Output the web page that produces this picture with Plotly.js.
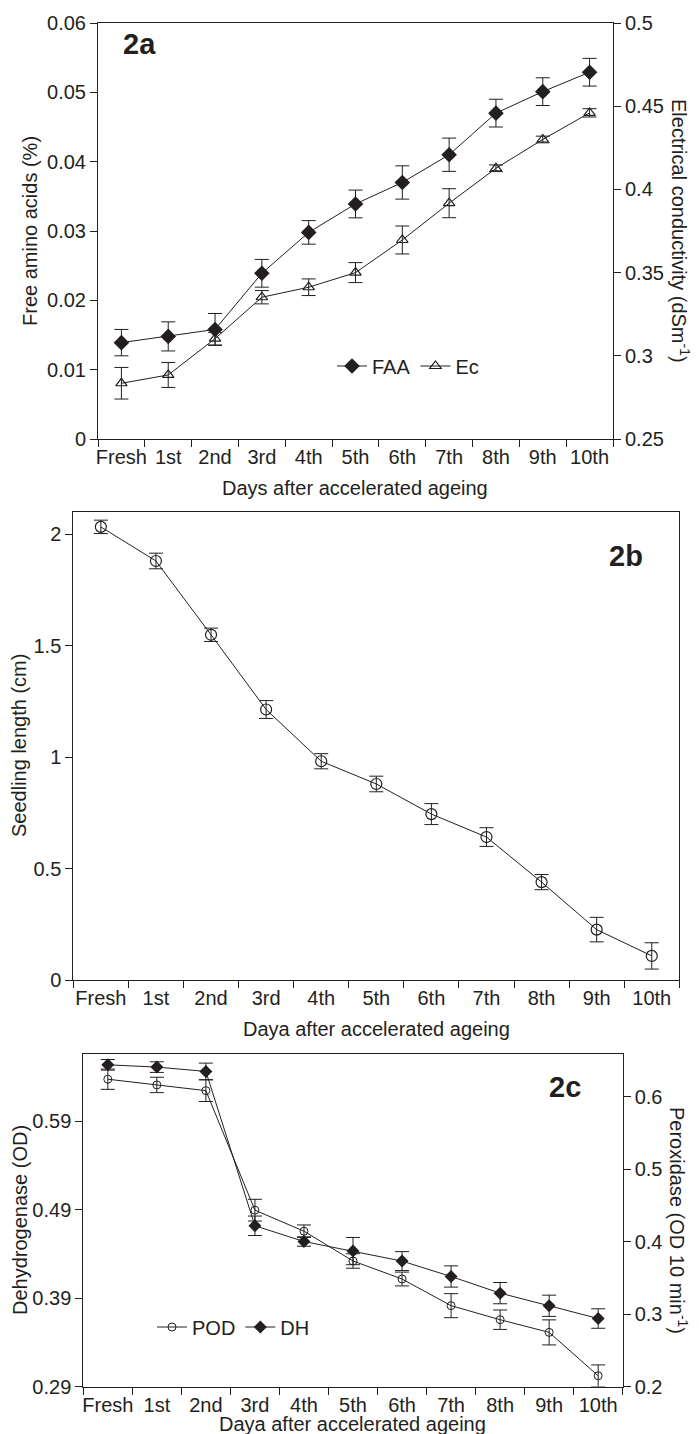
<!DOCTYPE html>
<html>
<head>
<meta charset="utf-8">
<script src="https://cdn.plot.ly/plotly-3.0.1.min.js"></script>
<style>
  html, body { margin: 0; padding: 0; background: #ffffff; }
  #chart { width: 699px; height: 1434px; }
</style>
</head>
<body>
<div id="chart"></div>
<script>
// ---------- data ----------
const categories = ["Fresh", "1st", "2nd", "3rd", "4th", "5th", "6th", "7th", "8th", "9th", "10th"];

// Panel 2a
const faa    = [0.0139, 0.0148, 0.0158, 0.0239, 0.0298, 0.0339, 0.0370, 0.0410, 0.0470, 0.0501, 0.0529];
const faaErr = [0.0019, 0.0021, 0.0023, 0.0020, 0.0017, 0.0020, 0.0024, 0.0024, 0.0020, 0.0020, 0.0020];
const ec     = [0.2835, 0.2885, 0.3103, 0.3352, 0.3412, 0.3500, 0.3696, 0.3917, 0.4127, 0.4300, 0.4460];
const ecErr  = [0.0095, 0.0075, 0.0038, 0.0040, 0.0050, 0.0060, 0.0084, 0.0087, 0.0020, 0.0020, 0.0025];

// Panel 2b
const seedling    = [2.032, 1.879, 1.548, 1.213, 0.981, 0.879, 0.744, 0.641, 0.439, 0.226, 0.108];
const seedlingErr = [0.030, 0.035, 0.030, 0.040, 0.034, 0.035, 0.047, 0.042, 0.034, 0.055, 0.059];

// Panel 2c
const pod    = [0.6242, 0.6163, 0.6084, 0.4434, 0.4144, 0.3733, 0.3484, 0.3116, 0.2922, 0.2747, 0.2148];
const podErr = [0.0140, 0.0106, 0.0150, 0.0150, 0.0086, 0.0100, 0.0095, 0.0166, 0.0134, 0.0173, 0.0150];
const dh     = [0.6535, 0.6509, 0.6460, 0.4716, 0.4538, 0.4430, 0.4317, 0.4143, 0.3955, 0.3812, 0.3668];
const dhErr  = [0.0060, 0.0060, 0.0094, 0.0110, 0.0053, 0.0154, 0.0107, 0.0120, 0.0120, 0.0120, 0.0110];

const leftTicks2c = [0.29, 0.39, 0.49, 0.59];

// ---------- helpers ----------
const W = 699, H = 1434;
const INK = "#231f20";
const FONT = "Liberation Sans, Arial, Helvetica, sans-serif";
const px = v => v / W;
const py = v => 1 - v / H;

function errBar(arr) {
  return { type: "data", array: arr, visible: true, color: INK, thickness: 1, width: 7 };
}

function xAxis(domain, anchor) {
  return {
    domain: domain, anchor: anchor, type: "category",
    categoryorder: "array", categoryarray: categories,
    range: [-0.5, 10.5], tickson: "boundaries", tickangle: 0,
    ticks: "outside", ticklen: 7, tickwidth: 1, tickcolor: INK,
    showline: true, linecolor: INK, linewidth: 1, mirror: true,
    showgrid: false, zeroline: false,
    tickfont: { family: FONT, size: 20, color: INK },
    fixedrange: true
  };
}
function yAxis(domain, anchor, range, extra) {
  return Object.assign({
    domain: domain, anchor: anchor, range: range,
    ticks: "outside", ticklen: 7, tickwidth: 1, tickcolor: INK,
    showline: true, linecolor: INK, linewidth: 1,
    showgrid: false, zeroline: false,
    tickfont: { family: FONT, size: 20, color: INK },
    fixedrange: true
  }, extra || {});
}

// ---------- traces ----------
const traces = [
  { x: categories, y: faa, error_y: errBar(faaErr), name: "FAA", type: "scatter", mode: "lines+markers",
    xaxis: "x", yaxis: "y", legend: "legend",
    line: { color: INK, width: 1 }, marker: { symbol: "diamond", size: 12, color: INK } },
  { x: categories, y: ec, error_y: errBar(ecErr), name: "Ec", type: "scatter", mode: "lines+markers",
    xaxis: "x", yaxis: "y2", legend: "legend",
    line: { color: INK, width: 1 }, marker: { symbol: "triangle-up-open", size: 10, color: INK, line: { color: INK, width: 1.2 } } },

  { x: categories, y: seedling, error_y: errBar(seedlingErr), name: "Seedling length", type: "scatter", mode: "lines+markers",
    xaxis: "x2", yaxis: "y3", showlegend: false,
    line: { color: INK, width: 1 }, marker: { symbol: "circle-open", size: 11, color: INK, line: { color: INK, width: 1.2 } } },

  { x: categories, y: pod, error_y: errBar(podErr), name: "POD", type: "scatter", mode: "lines+markers",
    xaxis: "x3", yaxis: "y5", legend: "legend2",
    line: { color: INK, width: 1 }, marker: { symbol: "circle-open", size: 8, color: INK, line: { color: INK, width: 1 } } },
  { x: categories, y: dh, error_y: errBar(dhErr), name: "DH", type: "scatter", mode: "lines+markers",
    xaxis: "x3", yaxis: "y4", legend: "legend2",
    line: { color: INK, width: 1 }, marker: { symbol: "diamond", size: 10, color: INK } }
];

// ---------- layout ----------
const dA = { x: [px(98), px(613)], y: [py(439), py(23)] };
const dB = { x: [px(73.3), px(679.3)], y: [py(980), py(511.7)] };
const dC = { x: [px(83.3), px(622.7)], y: [py(1386.5), py(1054)] };

const titleFont = { family: FONT, size: 20, color: INK };
function ann(text, x, y, angle, extra) {
  return Object.assign({ text: text, xref: "paper", yref: "paper", x: px(x), y: py(y),
    xanchor: "center", yanchor: "middle", showarrow: false, textangle: angle, font: titleFont }, extra || {});
}
const labelFont = { family: FONT, size: 29, color: INK, weight: "bold" };

const layout = {
  width: W, height: H,
  margin: { l: 0, r: 0, t: 0, b: 0 },
  paper_bgcolor: "#ffffff", plot_bgcolor: "#ffffff",
  font: { family: FONT, color: INK },

  xaxis: xAxis(dA.x, "y"),
  yaxis: yAxis(dA.y, "x", [0, 0.06], { dtick: 0.01, tick0: 0 }),
  yaxis2: yAxis(dA.y, "x", [0.25, 0.5], { dtick: 0.05, tick0: 0.25, overlaying: "y", side: "right" }),

  xaxis2: xAxis(dB.x, "y3"),
  yaxis3: yAxis(dB.y, "x2", [0, 2.1], { tickvals: [0, 0.5, 1, 1.5, 2], mirror: true }),

  xaxis3: xAxis(dC.x, "y4"),
  yaxis4: yAxis(dC.y, "x3", [0.29, 0.6657], { tickvals: leftTicks2c, ticktext: leftTicks2c.map(String) }),
  yaxis5: yAxis(dC.y, "x3", [0.2, 0.659], { dtick: 0.1, tick0: 0.2, overlaying: "y4", side: "right" }),

  legend: {
    orientation: "h", x: px(332), y: py(366), xanchor: "left", yanchor: "middle",
    bgcolor: "rgba(0,0,0,0)", font: { family: FONT, size: 20, color: INK },
    traceorder: "normal", itemclick: false, itemdoubleclick: false
  },
  legend2: {
    orientation: "h", x: px(152), y: py(1327), xanchor: "left", yanchor: "middle",
    bgcolor: "rgba(0,0,0,0)", font: { family: FONT, size: 20, color: INK },
    traceorder: "normal", itemclick: false, itemdoubleclick: false
  },

  annotations: [
    ann("<b>2a</b>", 139.5, 44, 0, { font: labelFont }),
    ann("Free amino acids (%)", 30, 231, -90),
    ann("Electrical conductivity (dSm<sup>-1</sup>)", 681, 231, 90),
    ann("Days after accelerated ageing", 355.5, 488, 0),

    ann("<b>2b</b>", 626, 556, 0, { font: labelFont }),
    ann("Seedling length (cm)", 19, 746, -90),
    ann("Daya after accelerated ageing", 376, 1029, 0),

    ann("<b>2c</b>", 565, 1087, 0, { font: labelFont }),
    ann("Dehydrogenase (OD)", 20, 1220, -90),
    ann("Peroxidase (OD 10 min<sup>-1</sup>)", 679, 1220, 90),
    ann("Daya after accelerated ageing", 353, 1424, 0)
  ]
};

Plotly.newPlot("chart", traces, layout, { staticPlot: true, displayModeBar: false });
</script>
</body>
</html>
